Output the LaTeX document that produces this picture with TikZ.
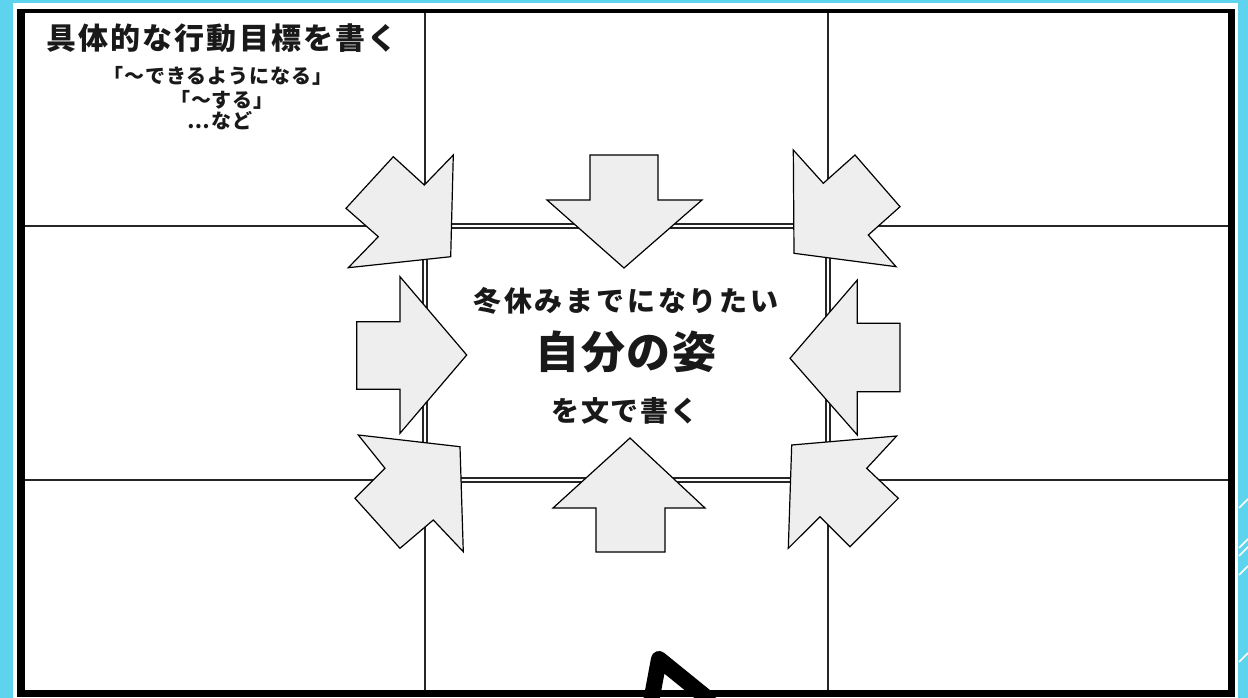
\documentclass[tikz,border=0pt]{standalone}
\usepackage{fontspec}
\newfontfamily\jp{Noto Sans CJK JP}
\definecolor{bgblue}{RGB}{94,211,238}
\definecolor{arrowfill}{RGB}{238,238,238}
\tikzset{
  arr/.style={fill=arrowfill, draw=black, line width=1.2pt, line join=miter},
  gridline/.style={draw=black!85, line width=1.6pt},
  lbl/.style={inner sep=0pt, text=black!90, align=center}
}
\begin{document}
\begin{tikzpicture}[x=1pt,y=-1pt]
\useasboundingbox (0,0) rectangle (1248,698);
% background
\fill[bgblue] (0,0) rectangle (1248,698);
\fill[white] (13,3) rectangle (1238,698);
% decorative stripes
\foreach \yy in {508,548,556,575,662}
  \draw[white, line width=1.5pt] (1239,\yy) -- (1248,\yy-9);
% frame
\fill[black] (17,9) rectangle (1235,697);
\fill[white] (25,13) rectangle (1228,690);
% grid
\draw[gridline] (425,13) -- (425,690);
\draw[gridline] (828,13) -- (828,690);
\draw[gridline] (25,226) -- (1228,226);
\draw[gridline] (25,480) -- (1228,480);
% center cell with double border
\draw[double=white, double distance=2.4pt, line width=1.4pt, draw=black!85] (425,226) rectangle (828,480);
% arrows
\draw[arr] (450.7,256.7) -- (453.3,155) -- (424.3,185) -- (393.3,156.7) -- (346,208.3) -- (378.3,236.7) -- (348.3,267.7) -- cycle;
\draw[arr] (466.7,355) -- (400,276.7) -- (400,321.7) -- (356.7,321.7) -- (356.7,389.3) -- (400,389.3) -- (400,433.3) -- cycle;
\draw[arr] (460,446.7) -- (358.3,435) -- (385,468.3) -- (355,498.3) -- (400,548.3) -- (433.3,520) -- (463.3,551.7) -- cycle;
\draw[arr] (624,268) -- (547,200) -- (590,200) -- (590,155) -- (658,155) -- (658,200) -- (702,200) -- cycle;
\draw[arr] (630,438) -- (553,508) -- (596,508) -- (596,552) -- (665,552) -- (665,508) -- (705,508) -- cycle;
\draw[arr] (794,253.3) -- (793.3,150) -- (823.3,183.3) -- (855,155) -- (900,206.7) -- (868.3,235) -- (896,266.7) -- cycle;
\draw[arr] (790,358.3) -- (857.3,280) -- (857.3,323.3) -- (900,323.3) -- (900,391.7) -- (857.3,391.7) -- (857.3,435) -- cycle;
\draw[arr] (791.7,445) -- (896.7,436) -- (866.7,468.3) -- (898.3,498.3) -- (850,546.7) -- (820,516.7) -- (788.3,548.3) -- cycle;
% texts top-left
\node[lbl] (t1) at (222,38.5) {\jp\bfseries\fontsize{30}{32}\selectfont\addfontfeature{LetterSpace=7}具体的な行動目標を書く};
\node[lbl] (t2) at (218,75.5) {\jp\bfseries\fontsize{20}{22}\selectfont\addfontfeature{LetterSpace=5}「〜できるようになる」};
\node[lbl] (t3) at (222,99.5) {\jp\bfseries\fontsize{20}{22}\selectfont\addfontfeature{LetterSpace=3}「〜する」};
\node[lbl] (t4) at (220,120.5) {\jp\bfseries\fontsize{20}{22}\selectfont\addfontfeature{LetterSpace=5}…など};
% center texts
\node[lbl] (c1) at (626,301) {\jp\bfseries\fontsize{28}{30}\selectfont\addfontfeature{LetterSpace=10}冬休みまでになりたい};
\node[lbl] (c2) at (626,352) {\jp\bfseries\fontsize{44}{46}\selectfont\addfontfeature{LetterSpace=4}自分の姿};
\node[lbl] (c3) at (625,410.5) {\jp\bfseries\fontsize{28}{30}\selectfont\addfontfeature{LetterSpace=6}を文で書く};
% black cursor-like stroke at the bottom
\coordinate (p1) at (651,702);
\coordinate (p2) at (659,659);
\coordinate (p3) at (712,702);
\draw[black, line width=16pt, line join=round] (p1) -- (p2) -- (p3);
\end{tikzpicture}
\end{document}
